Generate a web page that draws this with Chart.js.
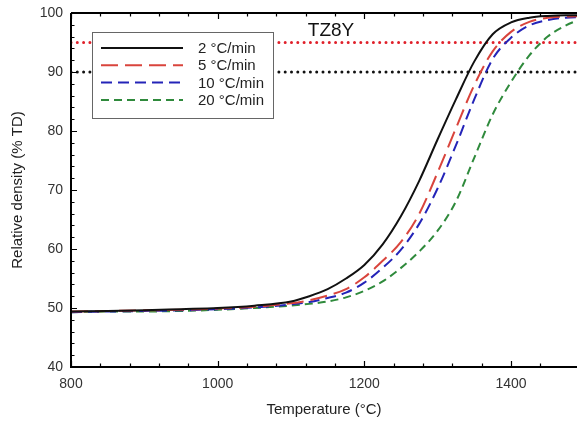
<!DOCTYPE html>
<html>
<head>
<meta charset="utf-8">
<script src="https://cdn.jsdelivr.net/npm/chart.js@4"></script>
<style>
  html, body { margin: 0; padding: 0; background: #fff; }
  #wrap { width: 577px; height: 423px; }
</style>
</head>
<body>
<div id="wrap"><canvas id="densityChart" width="577" height="423"></canvas></div>
<script>
// sintering curves, relative density vs temperature
const temps  = [800, 850, 900, 950, 1000, 1050, 1100, 1125, 1150, 1175, 1200, 1225, 1250, 1275, 1300, 1325, 1350, 1375, 1400, 1425, 1450, 1475, 1500];
const rate2  = [49.4, 49.5, 49.6, 49.8, 50.0, 50.4, 51.1, 52.0, 53.2, 55.0, 57.3, 60.8, 65.6, 71.6, 78.6, 85.4, 91.8, 96.4, 98.4, 99.2, 99.5, 99.6, 99.6];
const rate5  = [49.4, 49.5, 49.6, 49.7, 49.9, 50.2, 50.8, 51.3, 52.1, 53.2, 55.2, 58.0, 61.2, 66.0, 73.0, 80.5, 87.8, 93.5, 96.8, 98.5, 99.2, 99.4, 99.5];
const rate10 = [49.3, 49.4, 49.5, 49.6, 49.8, 50.1, 50.6, 51.0, 51.7, 52.6, 54.3, 56.8, 59.9, 64.3, 70.3, 77.6, 85.4, 92.2, 95.8, 97.9, 98.8, 99.2, 99.3];
const rate20 = [49.3, 49.4, 49.4, 49.5, 49.7, 50.0, 50.4, 50.7, 51.1, 51.8, 52.9, 54.5, 56.8, 59.6, 63.1, 68.1, 75.5, 82.8, 88.3, 92.8, 96.0, 97.9, 99.2];
const rateLabels = ['2 °C/min', '5 °C/min', '10 °C/min', '20 °C/min'];
const refLevels = [95, 90];
const xRange = [800, 1490];
const yRange = [40, 100];
const materialLabel = 'TZ8Y';

const FONT = "'Liberation Sans', Arial, sans-serif";

function pts(ys) { return temps.map((t, i) => ({ x: t, y: ys[i] })); }
function refLine(v) { return [{ x: xRange[0], y: v }, { x: 1500, y: v }]; }

const seriesStyle = [
  { color: '#111111', dash: [] },
  { color: '#d9443c', dash: [17, 7] },
  { color: '#2424b8', dash: [11, 6] },
  { color: '#2f8a3c', dash: [8, 5] }
];
const seriesData = [rate2, rate5, rate10, rate20];

const datasets = seriesData.map((ys, i) => ({
  label: rateLabels[i],
  data: pts(ys),
  borderColor: seriesStyle[i].color,
  borderDash: seriesStyle[i].dash,
  borderWidth: 2,
  pointRadius: 0,
  cubicInterpolationMode: 'monotone',
  fill: false
}));
datasets.push({
  label: 'ref95', data: refLine(refLevels[0]), borderColor: '#e0202a',
  borderWidth: 3, borderDash: [0, 6.3], borderCapStyle: 'round', pointRadius: 0, isRef: true
});
datasets.push({
  label: 'ref90', data: refLine(refLevels[1]), borderColor: '#111111',
  borderWidth: 3, borderDash: [0, 6.3], borderCapStyle: 'round', pointRadius: 0, isRef: true
});

const framePlugin = {
  id: 'frame',
  afterDatasetsDraw(chart) {
    const ctx = chart.ctx;
    const { left, right, top, bottom } = chart.chartArea;
    const xs = chart.scales.x, ys = chart.scales.y;
    ctx.save();
    ctx.strokeStyle = '#000';
    ctx.lineWidth = 2;
    ctx.beginPath();
    ctx.moveTo(left, top); ctx.lineTo(left, bottom); ctx.lineTo(right + 2, bottom);
    ctx.moveTo(left, top); ctx.lineTo(right + 2, top);
    ctx.stroke();

    // inward tick marks
    ctx.lineWidth = 1.2;
    ctx.beginPath();
    xs.ticks.forEach(t => {
      if (t.value > xRange[1] - 1) return;
      const px = Math.round(xs.getPixelForValue(t.value)) + 0.5;
      const len = t.value % 200 === 0 ? 6 : 3.5;
      ctx.moveTo(px, bottom); ctx.lineTo(px, bottom - len);
      ctx.moveTo(px, top); ctx.lineTo(px, top + len);
    });
    ys.ticks.forEach(t => {
      const py = Math.round(ys.getPixelForValue(t.value)) + 0.5;
      const len = t.value % 10 === 0 ? 6 : 3.5;
      ctx.moveTo(left, py); ctx.lineTo(left + len, py);
    });
    ctx.stroke();

    // legend box
    const bx = 92, by = 32, bw = 181, bh = 86;
    ctx.fillStyle = '#fff';
    ctx.fillRect(bx, by, bw, bh);
    ctx.strokeStyle = '#666';
    ctx.lineWidth = 1;
    ctx.strokeRect(bx + 0.5, by + 0.5, bw, bh);
    ctx.font = '15px ' + FONT;
    ctx.textBaseline = 'middle';
    ctx.textAlign = 'left';
    chart.data.datasets.forEach((ds, i) => {
      if (ds.isRef) return;
      const ry = 48 + i * 17.3;
      ctx.strokeStyle = ds.borderColor;
      ctx.lineWidth = 2;
      ctx.setLineDash(ds.borderDash);
      ctx.beginPath();
      ctx.moveTo(101, ry); ctx.lineTo(183, ry);
      ctx.stroke();
      ctx.setLineDash([]);
      ctx.fillStyle = '#222';
      ctx.fillText(ds.label, 198, ry + 1);
    });

    ctx.font = '19px ' + FONT;
    ctx.textAlign = 'center';
    ctx.fillStyle = '#111';
    ctx.fillText(materialLabel, 331, 31);
    ctx.restore();
  }
};

new Chart(document.getElementById('densityChart'), {
  type: 'line',
  data: { datasets: datasets },
  options: {
    responsive: false,
    animation: false,
    layout: { padding: { top: 13, right: 0, left: 0, bottom: 0 } },
    plugins: { legend: { display: false }, tooltip: { enabled: false } },
    scales: {
      x: {
        type: 'linear', min: xRange[0], max: xRange[1],
        afterFit(scale) { scale.height = 56; scale.paddingRight = 0; scale.paddingLeft = 0; },
        grid: { display: false, drawTicks: false },
        border: { display: false },
        ticks: {
          stepSize: 40, autoSkip: false, maxRotation: 0, padding: 9,
          color: '#333', font: { family: FONT, size: 14 },
          callback: v => (v % 200 === 0 ? v : '')
        },
        title: { display: true, text: 'Temperature (°C)', color: '#222', font: { family: FONT, size: 15 }, padding: { top: 0, bottom: 4 } }
      },
      y: {
        min: yRange[0], max: yRange[1],
        afterFit(scale) { scale.width = 71; scale.paddingTop = 0; scale.paddingBottom = 0; },
        grid: { display: false, drawTicks: false },
        border: { display: false },
        ticks: {
          stepSize: 2, autoSkip: false, padding: 8,
          color: '#333', font: { family: FONT, size: 14 },
          callback: v => (v % 10 === 0 ? v : '')
        },
        title: { display: true, text: 'Relative density (% TD)', color: '#222', font: { family: FONT, size: 15 }, padding: { top: 9, bottom: 0 } }
      }
    }
  },
  plugins: [framePlugin]
});
</script>
</body>
</html>
